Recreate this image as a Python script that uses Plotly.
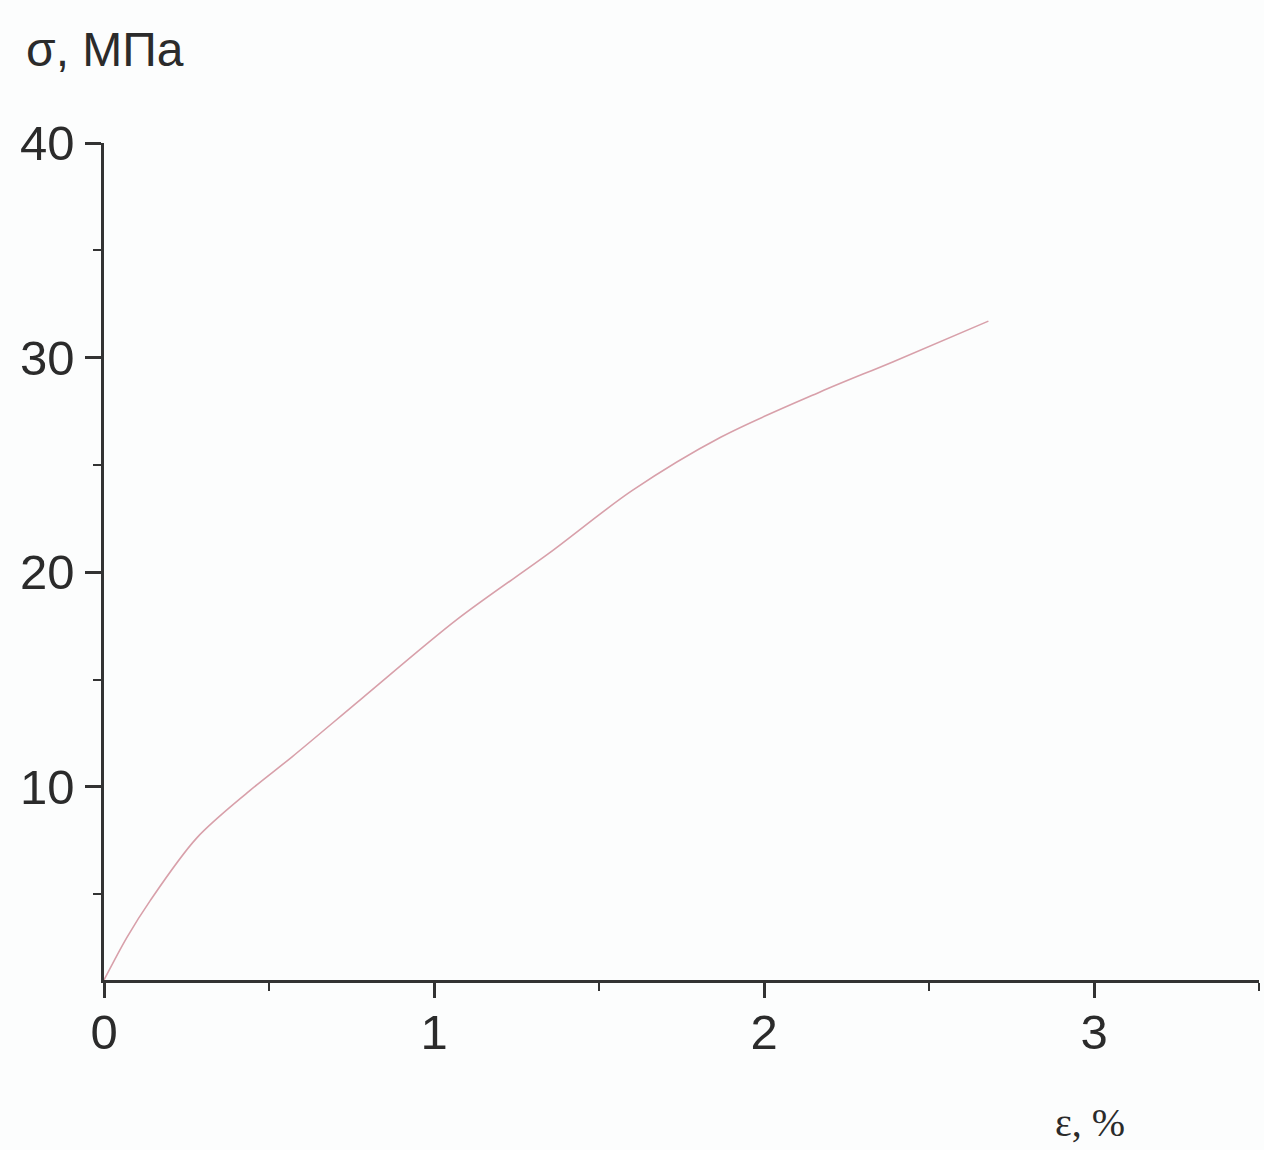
import plotly.graph_objects as go

# Stress-strain curve: strain (%) vs stress (MPa)
strain = [0.0, 0.07, 0.14, 0.28, 0.44, 0.57, 0.78, 1.07, 1.35, 1.60, 1.87, 2.17, 2.39, 2.68]
stress = [1.0, 3.0, 4.7, 7.6, 9.8, 11.4, 14.1, 17.8, 20.9, 23.8, 26.3, 28.4, 29.8, 31.7]

x_ticks = [0, 1, 2, 3]
y_ticks = [10, 20, 30, 40]

y_title = "σ, МПа"
x_title = "ε, %"

W, H = 1264, 1150
ML, MR, MT, MB = 104, 5, 143, 170
axis_color = "#333333"
text_color = "#2b2b2b"

fig = go.Figure()
fig.add_trace(go.Scatter(
    x=strain, y=stress, mode="lines",
    line=dict(color="#d8a0aa", width=1.6, shape="spline", smoothing=0.9),
    hoverinfo="skip", showlegend=False,
))

tick_font = dict(family="Liberation Sans, Arial, sans-serif", size=49, color=text_color)

fig.update_xaxes(
    range=[0, 3.5], tickvals=x_ticks, ticktext=[str(v) for v in x_ticks],
    showgrid=False, zeroline=False, showline=True, linecolor=axis_color, linewidth=2.5,
    ticks="outside", ticklen=15, tickwidth=2.5, tickcolor=axis_color,
    tickfont=tick_font, ticklabelstandoff=-8,
    minor=dict(ticks="outside", ticklen=8, tickwidth=2, tickcolor=axis_color, dtick=0.5, tick0=0, showgrid=False),
)
fig.update_yaxes(
    range=[1, 40], tickvals=y_ticks, ticktext=[str(v) for v in y_ticks],
    showgrid=False, zeroline=False, showline=True, linecolor=axis_color, linewidth=2.5,
    ticks="outside", ticklen=16, tickwidth=2.5, tickcolor=axis_color,
    tickfont=tick_font, ticklabelstandoff=1,
    minor=dict(ticks="outside", ticklen=8, tickwidth=2, tickcolor=axis_color, dtick=5, tick0=0, showgrid=False),
)

pw = W - ML - MR
ph = H - MT - MB

fig.add_annotation(
    text=y_title, xref="paper", yref="paper",
    x=(24 - ML) / pw, y=(H - MB - 50) / ph,
    xanchor="left", yanchor="middle", showarrow=False,
    font=dict(family="Liberation Sans, Arial, sans-serif", size=48, color=text_color),
)
fig.add_annotation(
    text=x_title, xref="paper", yref="paper",
    x=(1090 - ML) / pw, y=(H - MB - 1122) / ph,
    xanchor="center", yanchor="middle", showarrow=False,
    font=dict(family="Liberation Serif, Times New Roman, serif", size=40, color=text_color),
)

fig.update_layout(
    width=W, height=H,
    margin=dict(l=ML, r=MR, t=MT, b=MB),
    paper_bgcolor="#fcfdfd", plot_bgcolor="#fcfdfd",
)

fig.write_html("out.html")
